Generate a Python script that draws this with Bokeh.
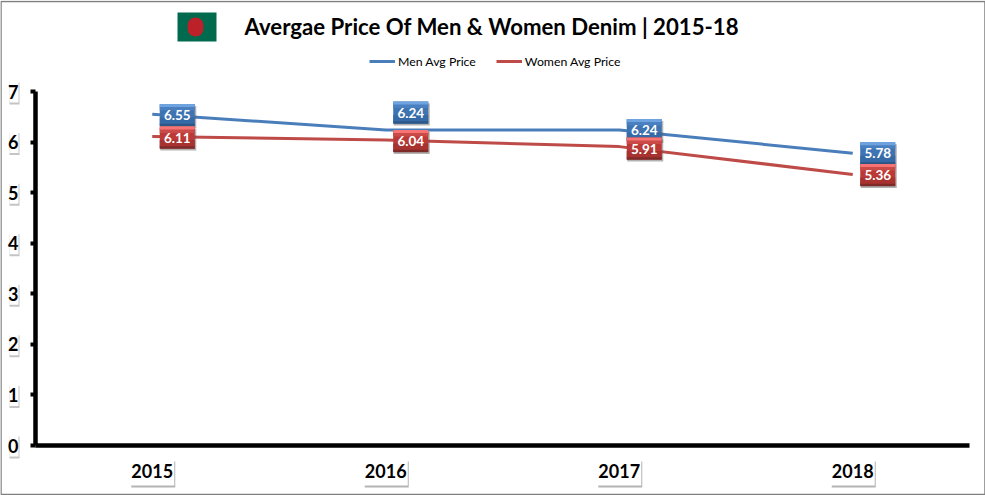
from bokeh.plotting import figure
from bokeh.embed import file_html
from bokeh.resources import INLINE
from bokeh.models import BoxAnnotation, ColumnDataSource, Label, Range1d, FixedTicker
from bokeh.core.properties import value

years = ["2015", "2016", "2017", "2018"]
men = [6.55, 6.24, 6.24, 5.78]
women = [6.11, 6.04, 5.91, 5.36]
men_labels = ["6.55", "6.24", "6.24", "5.78"]
women_labels = ["6.11", "6.04", "5.91", "5.36"]
men_shift_px = [0.7, -17.4, 0.1, 0.0]
women_shift_px = [1.0, 1.0, 1.9, 0.6]
y_ticks = [0, 1, 2, 3, 4, 5, 6, 7]

W, H = 985, 495
LEFT, RIGHT, TOP, BOTTOM = 35, 969, 91, 445
FONT = "Lato"
PPU = (BOTTOM - TOP) / 7
BAND = (RIGHT - LEFT) / 4
pos = list(range(len(years)))

x_range = Range1d(-0.5 - LEFT / BAND, 3.5 + (W - RIGHT) / BAND)
y_range = Range1d(-(H - BOTTOM) / PPU, BOTTOM / PPU)

p = figure(width=W, height=H, x_range=x_range, y_range=y_range,
           output_backend="svg", toolbar_location=None,
           min_border_left=0, min_border_right=0, min_border_top=0, min_border_bottom=0)
p.outline_line_color = None
p.grid.visible = False
p.background_fill_color = "white"
p.border_fill_color = "white"

# axes
xax, yax = p.xaxis[0], p.yaxis[0]
xax.fixed_location = 0
yax.fixed_location = -0.5
xax.bounds = (-0.5, 3.5)
yax.bounds = (0, 7)
xax.ticker = FixedTicker(ticks=pos)
xax.major_label_overrides = {i: y for i, y in zip(pos, years)}
yax.ticker = FixedTicker(ticks=y_ticks)
for ax in (xax, yax):
    ax.axis_line_color = "black"
    ax.axis_line_width = 4.5
    ax.major_label_text_font = FONT
    ax.major_label_text_font_style = "bold"
    ax.major_label_text_color = "black"
    ax.major_label_text_font_size = "18px"
    ax.minor_tick_line_color = None
yax.major_tick_line_color = "black"
yax.major_tick_line_width = 4
yax.major_tick_out = 5
yax.major_tick_in = 0
yax.major_label_standoff = 12
xax.major_tick_line_color = None
xax.major_tick_out = 0
xax.major_tick_in = 0
xax.major_label_standoff = 18


def canvas_box(l, r, t, b, color, level="underlay", **kw):
    p.add_layout(BoxAnnotation(left=l, right=r, top=t, bottom=b,
                               left_units="canvas", right_units="canvas",
                               top_units="canvas", bottom_units="canvas",
                               fill_color=color, fill_alpha=1, line_color=None,
                               level=level, editable=False, **kw))


# white boxes with soft shadows behind the tick labels
for t in y_ticks:
    cy = BOTTOM - t * PPU
    canvas_box(9, 19, cy - 9, cy + 13, "#c4c4c4")
    canvas_box(9, 18, cy - 11, cy + 11, "white")
for i in pos:
    cx = LEFT + (i + 0.5) * BAND
    canvas_box(cx - 21, cx + 23, 461, 487, "#b4b4b4")
    canvas_box(cx - 22, cx + 22, 459, 485, "white")

# frame around the picture
p.add_layout(BoxAnnotation(left=0.5, right=W - 0.5, top=1, bottom=H - 1,
                           left_units="canvas", right_units="canvas",
                           top_units="canvas", bottom_units="canvas",
                           fill_alpha=0, line_color="#808080", line_alpha=1, line_width=1.5,
                           level="overlay", editable=False))

# flag
canvas_box(177, 216, 12, 41, "#006a4e", level="annotation")
canvas_box(187, 203, 17, 36, "#bc2029", level="annotation", border_radius=8)

# title
p.add_layout(Label(x=244, y=H - 26, x_units="screen", y_units="screen",
                   text="Avergae Price Of Men & Women Denim | 2015-18",
                   text_font=FONT, text_font_style="bold", text_font_size="22.2px",
                   text_color="black", text_align="left", text_baseline="middle"))

# lines
p.line(pos, men, line_color="#4a7ebb", line_width=3, legend_label="Men Avg Price")
p.line(pos, women, line_color="#be4b48", line_width=3, legend_label="Women Avg Price")

leg = p.legend[0]
leg.orientation = "horizontal"
leg.location = (369, H - 69)
leg.border_line_color = None
leg.background_fill_alpha = 0
leg.padding = 0
leg.margin = 0
leg.spacing = 20
leg.glyph_width = 26
leg.glyph_height = 16
leg.label_standoff = 3
leg.label_text_font = FONT
leg.label_text_font_size = "12.3px"
leg.label_text_color = "black"

# value labels with a bevelled look
DODGE = 25 / BAND


def value_boxes(vals, shifts, labels, shade_list):
    for dx, dy, w, h, color, alpha in shade_list:
        src = ColumnDataSource(dict(
            x=[i + DODGE + dx / BAND for i in pos],
            y=[v - (s + dy) / PPU for v, s in zip(vals, shifts)]))
        p.rect(x="x", y="y", source=src,
               width=w, height=h, width_units="screen", height_units="screen",
               fill_color=color, fill_alpha=alpha, line_color=None)
    src = ColumnDataSource(dict(
        x=[i + DODGE for i in pos],
        y=[v - s / PPU for v, s in zip(vals, shifts)], t=labels))
    p.text(x="x", y="y", text="t", source=src,
           text_color="white", text_align="center", text_baseline="middle",
           text_font=value(FONT), text_font_style="bold", text_font_size="13.5px")


def shades(light, top, mid, low, dark):
    return [
        (1, 2, 36, 22, "#555555", 0.45),
        (0, 0, 35, 22, mid, 1),
        (0, -7, 35, 5, top, 1),
        (0, 6, 35, 7, low, 1),
        (0, -9.5, 35, 3, light, 1),
        (0, 10, 35, 2.5, dark, 1),
    ]


value_boxes(men, men_shift_px, men_labels, shades("#6fa3e0", "#4a80c0", "#3f74b3", "#366aa6", "#2c5788"))
value_boxes(women, women_shift_px, women_labels, shades("#f87474", "#c94a47", "#bb3a38", "#a83230", "#7e2a28"))

open("out.html", "w").write(file_html(p, INLINE))
